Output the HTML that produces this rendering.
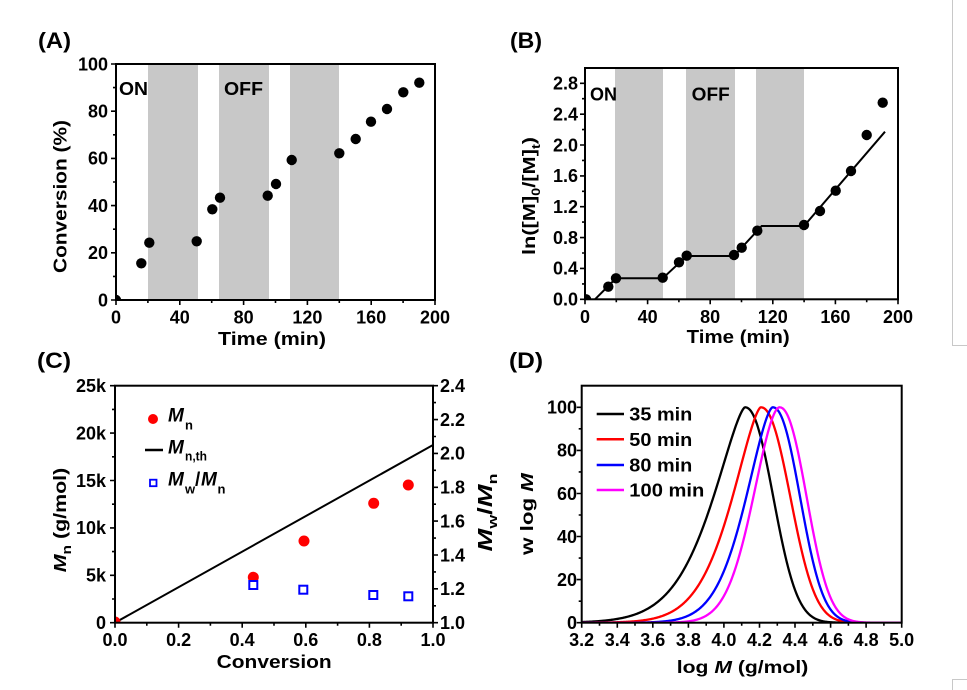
<!DOCTYPE html>
<html><head><meta charset="utf-8"><style>
html,body{margin:0;padding:0;background:#fff;}
svg{display:block;}
</style></head><body>
<svg id="s" width="967" height="690" viewBox="0 0 967 690" xmlns="http://www.w3.org/2000/svg" font-family="Liberation Sans, Arial, sans-serif" font-weight="bold" font-size="18">
<defs>
<clipPath id="ca"><rect x="116" y="64" width="319" height="236"/></clipPath>
<clipPath id="cb"><rect x="585" y="68" width="313" height="231.3"/></clipPath>
<clipPath id="cc"><rect x="115" y="385.7" width="318" height="237"/></clipPath>
<clipPath id="cd"><rect x="581.7" y="385.7" width="320" height="237"/></clipPath>
</defs>
<rect width="967" height="690" fill="#fff"/>
<!-- right border lines -->
<path d="M952.5 0V345.5H967M952.5 690V679.5H967" fill="none" stroke="#c8c8c8" stroke-width="1"/>

<!-- ================= Panel A ================= -->
<g fill="#c8c8c8">
<rect x="148" y="64" width="50" height="236"/>
<rect x="219" y="64" width="50" height="236"/>
<rect x="290" y="64" width="49" height="236"/>
</g>
<g clip-path="url(#ca)" fill="#000">
<circle cx="116" cy="300" r="5.2"/>
<circle cx="141.3" cy="263.3" r="5.2"/>
<circle cx="149.3" cy="242.7" r="5.2"/>
<circle cx="196.7" cy="241.3" r="5.2"/>
<circle cx="212.3" cy="209.3" r="5.2"/>
<circle cx="220" cy="197.7" r="5.2"/>
<circle cx="267.7" cy="195.7" r="5.2"/>
<circle cx="276" cy="184" r="5.2"/>
<circle cx="291.7" cy="160" r="5.2"/>
<circle cx="339.3" cy="153.3" r="5.2"/>
<circle cx="355.7" cy="139" r="5.2"/>
<circle cx="371" cy="121.7" r="5.2"/>
<circle cx="387" cy="109" r="5.2"/>
<circle cx="403.3" cy="92.3" r="5.2"/>
<circle cx="419.3" cy="82.7" r="5.2"/>
</g>
<rect x="116" y="64" width="319" height="236" fill="none" stroke="#000" stroke-width="2"/>
<path d="M111 300H116M111 252.8H116M111 205.6H116M111 158.4H116M111 111.2H116M111 64H116M113 276.4H116M113 229.2H116M113 182H116M113 134.8H116M113 87.6H116M116 300V305M179.8 300V305M243.6 300V305M307.4 300V305M371.2 300V305M435 300V305M147.9 300V303M211.7 300V303M275.5 300V303M339.3 300V303M403.1 300V303" stroke="#000" stroke-width="1.6" fill="none"/>
<g text-anchor="end">
<text x="108" y="70.3">100</text><text x="108" y="117.5">80</text><text x="108" y="164.7">60</text><text x="108" y="211.9">40</text><text x="108" y="259.1">20</text><text x="108" y="306.3">0</text>
</g>
<g text-anchor="middle">
<text x="116" y="323.5">0</text><text x="179.8" y="323.5">40</text><text x="243.6" y="323.5">80</text><text x="307.4" y="323.5">120</text><text x="371.2" y="323.5">160</text><text x="435" y="323.5">200</text>
</g>
<text x="218" y="345" textLength="108" lengthAdjust="spacingAndGlyphs">Time (min)</text>
<text transform="translate(66.5,196.5) rotate(-90)" text-anchor="middle" textLength="153" lengthAdjust="spacingAndGlyphs">Conversion (%)</text>
<text x="119" y="95" textLength="29" lengthAdjust="spacingAndGlyphs">ON</text>
<text x="224" y="95" textLength="39" lengthAdjust="spacingAndGlyphs">OFF</text>
<text x="38" y="48" font-size="22" textLength="33" lengthAdjust="spacingAndGlyphs">(A)</text>

<!-- ================= Panel B ================= -->
<g fill="#c8c8c8">
<rect x="615" y="68" width="48" height="231.3"/>
<rect x="686" y="68" width="49" height="231.3"/>
<rect x="756" y="68" width="48" height="231.3"/>
</g>
<g clip-path="url(#cb)">
<polyline points="595,299.3 616,278.3 662.7,278.3 686.7,256 734,256 761.7,226 804,226 885,131.7" fill="none" stroke="#000" stroke-width="2"/>
<g fill="#000">
<circle cx="586" cy="299.3" r="5.2"/>
<circle cx="608.3" cy="286.7" r="5.2"/>
<circle cx="616" cy="278.3" r="5.2"/>
<circle cx="662.7" cy="277.7" r="5.2"/>
<circle cx="679" cy="262.3" r="5.2"/>
<circle cx="686.7" cy="255.7" r="5.2"/>
<circle cx="734" cy="255" r="5.2"/>
<circle cx="741.7" cy="247.7" r="5.2"/>
<circle cx="757.3" cy="230.7" r="5.2"/>
<circle cx="804" cy="225" r="5.2"/>
<circle cx="820" cy="211" r="5.2"/>
<circle cx="835.7" cy="190.7" r="5.2"/>
<circle cx="851" cy="171" r="5.2"/>
<circle cx="866.7" cy="135" r="5.2"/>
<circle cx="882.7" cy="102.7" r="5.2"/>
</g>
</g>
<rect x="585" y="68" width="313" height="231.3" fill="none" stroke="#000" stroke-width="2"/>
<path d="M580 299.3H585M580 268.4H585M580 237.6H585M580 206.7H585M580 175.9H585M580 145H585M580 114.2H585M580 83.3H585M582 283.9H585M582 253H585M582 222.1H585M582 191.3H585M582 160.4H585M582 129.6H585M582 98.7H585M585 299.3V304.3M647.6 299.3V304.3M710.2 299.3V304.3M772.8 299.3V304.3M835.4 299.3V304.3M898 299.3V304.3M616.3 299.3V302.3M678.9 299.3V302.3M741.5 299.3V302.3M804.1 299.3V302.3M866.7 299.3V302.3" stroke="#000" stroke-width="1.6" fill="none"/>
<g text-anchor="end">
<text x="578" y="305.6">0.0</text><text x="578" y="274.7">0.4</text><text x="578" y="243.9">0.8</text><text x="578" y="213">1.2</text><text x="578" y="182.2">1.6</text><text x="578" y="151.3">2.0</text><text x="578" y="120.5">2.4</text><text x="578" y="89.6">2.8</text>
</g>
<g text-anchor="middle">
<text x="585" y="323">0</text><text x="647.6" y="323">40</text><text x="710.2" y="323">80</text><text x="772.8" y="323">120</text><text x="835.4" y="323">160</text><text x="898" y="323">200</text>
</g>
<text x="686.7" y="343" textLength="103" lengthAdjust="spacingAndGlyphs">Time (min)</text>
<text transform="translate(535,196) rotate(-90) scale(1.21,1)" text-anchor="middle">ln([M]<tspan font-size="12" dy="5">0</tspan><tspan dy="-5">/[M]</tspan><tspan font-size="12" dy="5">t</tspan><tspan dy="-5">)</tspan></text>
<text x="590" y="100.7" textLength="27" lengthAdjust="spacingAndGlyphs">ON</text>
<text x="691.7" y="100.7" textLength="38" lengthAdjust="spacingAndGlyphs">OFF</text>
<text x="510" y="48" font-size="22" textLength="32" lengthAdjust="spacingAndGlyphs">(B)</text>

<!-- ================= Panel C ================= -->
<g clip-path="url(#cc)">
<line x1="115" y1="622.7" x2="433" y2="445" stroke="#000" stroke-width="2"/>
<g fill="#ff0000">
<circle cx="115" cy="622" r="5.5"/>
<circle cx="253.3" cy="577.3" r="5.5"/>
<circle cx="304" cy="541" r="5.5"/>
<circle cx="373.7" cy="503.3" r="5.5"/>
<circle cx="408.3" cy="485" r="5.5"/>
</g>
<g fill="#fff" stroke="#0000ff" stroke-width="2">
<rect x="249.3" y="581" width="8" height="8"/>
<rect x="299.3" y="585.7" width="8" height="8"/>
<rect x="369.3" y="591" width="8" height="8"/>
<rect x="404.3" y="592.3" width="8" height="8"/>
</g>
</g>
<rect x="115" y="385.7" width="318" height="237" fill="none" stroke="#000" stroke-width="2"/>
<path d="M110 622.7H115M110 575.3H115M110 527.9H115M110 480.5H115M110 433.1H115M110 385.7H115M112 599H115M112 551.6H115M112 504.2H115M112 456.8H115M112 409.4H115M433 622.7H438M433 588.8H438M433 555H438M433 521.1H438M433 487.3H438M433 453.4H438M433 419.6H438M433 385.7H438M433 605.8H436M433 571.9H436M433 538.1H436M433 504.2H436M433 470.3H436M433 436.5H436M433 402.6H436M115 622.7V627.7M178.6 622.7V627.7M242.2 622.7V627.7M305.8 622.7V627.7M369.4 622.7V627.7M433 622.7V627.7M146.8 622.7V625.7M210.4 622.7V625.7M274 622.7V625.7M337.6 622.7V625.7M401.2 622.7V625.7" stroke="#000" stroke-width="1.6" fill="none"/>
<g text-anchor="end">
<text x="106" y="629">0</text><text x="106" y="581.6">5k</text><text x="106" y="534.2">10k</text><text x="106" y="486.8">15k</text><text x="106" y="439.4">20k</text><text x="106" y="392">25k</text>
</g>
<g>
<text x="440" y="629">1.0</text><text x="440" y="595.1">1.2</text><text x="440" y="561.3">1.4</text><text x="440" y="527.4">1.6</text><text x="440" y="493.6">1.8</text><text x="440" y="459.7">2.0</text><text x="440" y="425.9">2.2</text><text x="440" y="392">2.4</text>
</g>
<g text-anchor="middle">
<text x="115" y="646">0.0</text><text x="178.6" y="646">0.2</text><text x="242.2" y="646">0.4</text><text x="305.8" y="646">0.6</text><text x="369.4" y="646">0.8</text><text x="433" y="646">1.0</text>
</g>
<text x="216.7" y="668" textLength="115" lengthAdjust="spacingAndGlyphs">Conversion</text>
<text transform="translate(66,520) rotate(-90) scale(1.19,1)" text-anchor="middle"><tspan font-style="italic">M</tspan><tspan font-size="13" dy="5">n</tspan><tspan dy="-5"> (g/mol)</tspan></text>
<text transform="translate(492,512.5) rotate(-90) scale(1.37,1)" text-anchor="middle" font-size="20"><tspan font-style="italic">M</tspan><tspan font-size="13" dy="5">w</tspan><tspan dy="-5">/</tspan><tspan font-style="italic">M</tspan><tspan font-size="13" dy="5">n</tspan></text>
<!-- legend C -->
<circle cx="153" cy="419" r="5" fill="#ff0000"/>
<text x="168" y="421.7" font-size="19" font-style="italic">M</text>
<text x="185" y="429.3" font-size="13">n</text>
<line x1="145" y1="450" x2="163" y2="450" stroke="#000" stroke-width="2.5"/>
<text x="168" y="453.3" font-size="19" font-style="italic">M</text>
<text x="185" y="460.7" font-size="13" textLength="22" lengthAdjust="spacingAndGlyphs">n,th</text>
<rect x="150" y="479.7" width="6.5" height="6.5" fill="#fff" stroke="#0000ff" stroke-width="1.8"/>
<text x="168" y="485.7" font-size="19" font-style="italic">M</text>
<text x="185" y="493.3" font-size="13">w</text>
<text x="195" y="485.7" font-size="19">/</text>
<text x="201" y="485.7" font-size="19" font-style="italic">M</text>
<text x="217.5" y="493.3" font-size="13">n</text>
<text x="37" y="368" font-size="22" textLength="34" lengthAdjust="spacingAndGlyphs">(C)</text>

<!-- ================= Panel D ================= -->
<g id="curves" clip-path="url(#cd)" fill="none" stroke-width="2.3" stroke-linejoin="round"></g>
<rect x="581.7" y="385.7" width="320" height="237" fill="none" stroke="#000" stroke-width="2"/>
<path d="M576.7 622.7H581.7M576.7 579.6H581.7M576.7 536.5H581.7M576.7 493.5H581.7M576.7 450.4H581.7M576.7 407.3H581.7M578.7 601.2H581.7M578.7 558.1H581.7M578.7 515H581.7M578.7 471.9H581.7M578.7 428.8H581.7M581.7 622.7V627.7M617.3 622.7V627.7M652.8 622.7V627.7M688.4 622.7V627.7M723.9 622.7V627.7M759.5 622.7V627.7M795 622.7V627.7M830.6 622.7V627.7M866.1 622.7V627.7M901.7 622.7V627.7M599.5 622.7V625.7M635 622.7V625.7M670.6 622.7V625.7M706.2 622.7V625.7M741.7 622.7V625.7M777.3 622.7V625.7M812.8 622.7V625.7M848.4 622.7V625.7M883.9 622.7V625.7" stroke="#000" stroke-width="1.6" fill="none"/>
<g text-anchor="end">
<text x="577" y="629">0</text><text x="577" y="585.9">20</text><text x="577" y="542.8">40</text><text x="577" y="499.8">60</text><text x="577" y="456.7">80</text><text x="577" y="413.6">100</text>
</g>
<g text-anchor="middle">
<text x="581.7" y="646">3.2</text><text x="617.3" y="646">3.4</text><text x="652.8" y="646">3.6</text><text x="688.4" y="646">3.8</text><text x="723.9" y="646">4.0</text><text x="759.5" y="646">4.2</text><text x="795" y="646">4.4</text><text x="830.6" y="646">4.6</text><text x="866.1" y="646">4.8</text><text x="901.7" y="646">5.0</text>
</g>
<text transform="translate(742.5,673) scale(1.175,1)" text-anchor="middle">log <tspan font-style="italic">M</tspan> (g/mol)</text>
<text transform="translate(533,514) rotate(-90) scale(1.24,1)" text-anchor="middle">w log <tspan font-style="italic">M</tspan></text>
<!-- legend D -->
<g stroke-width="2.5">
<line x1="596.7" y1="414" x2="624" y2="414" stroke="#000"/>
<line x1="596.7" y1="439.3" x2="624" y2="439.3" stroke="#ff0000"/>
<line x1="596.7" y1="465" x2="624" y2="465" stroke="#0000ff"/>
<line x1="596.7" y1="490" x2="624" y2="490" stroke="#ff00ff"/>
</g>
<text x="629.3" y="420.5" textLength="63" lengthAdjust="spacingAndGlyphs">35 min</text>
<text x="629.3" y="445.8" textLength="63" lengthAdjust="spacingAndGlyphs">50 min</text>
<text x="629.3" y="471.5" textLength="63" lengthAdjust="spacingAndGlyphs">80 min</text>
<text x="629.3" y="496.5" textLength="75" lengthAdjust="spacingAndGlyphs">100 min</text>
<text x="509" y="368" font-size="22" textLength="34" lengthAdjust="spacingAndGlyphs">(D)</text>
</svg>
<script>
(function(){
var g=document.getElementById('curves');
var q=2.2, ln2=Math.log(2);
var cs=[
 {c:'#000000',mu:4.118,p:1.44,s:0.272,hr:0.179},
 {c:'#ff0000',mu:4.207,p:1.49,s:0.2406,hr:0.187},
 {c:'#0000ff',mu:4.274,p:1.59,s:0.219,hr:0.173},
 {c:'#ff00ff',mu:4.312,p:1.79,s:0.207,hr:0.172}];
cs.forEach(function(k){
  var sr=k.hr/Math.pow(ln2,1/q);
  var pts=[];
  for(var l=3.2;l<=5.0001;l+=0.004){
    var d=l-k.mu,f;
    if(d<0){f=Math.exp(-Math.pow(-d/k.s,k.p));}
    else{f=Math.exp(-Math.pow(d/sr,q));}
    var x=581.7+(l-3.2)*177.78, y=622.7-f*215.4;
    pts.push(x.toFixed(2)+','+y.toFixed(2));
  }
  var pl=document.createElementNS('http://www.w3.org/2000/svg','polyline');
  pl.setAttribute('points',pts.join(' '));
  pl.setAttribute('stroke',k.c);
  g.appendChild(pl);
});
})();
</script>
</body></html>
